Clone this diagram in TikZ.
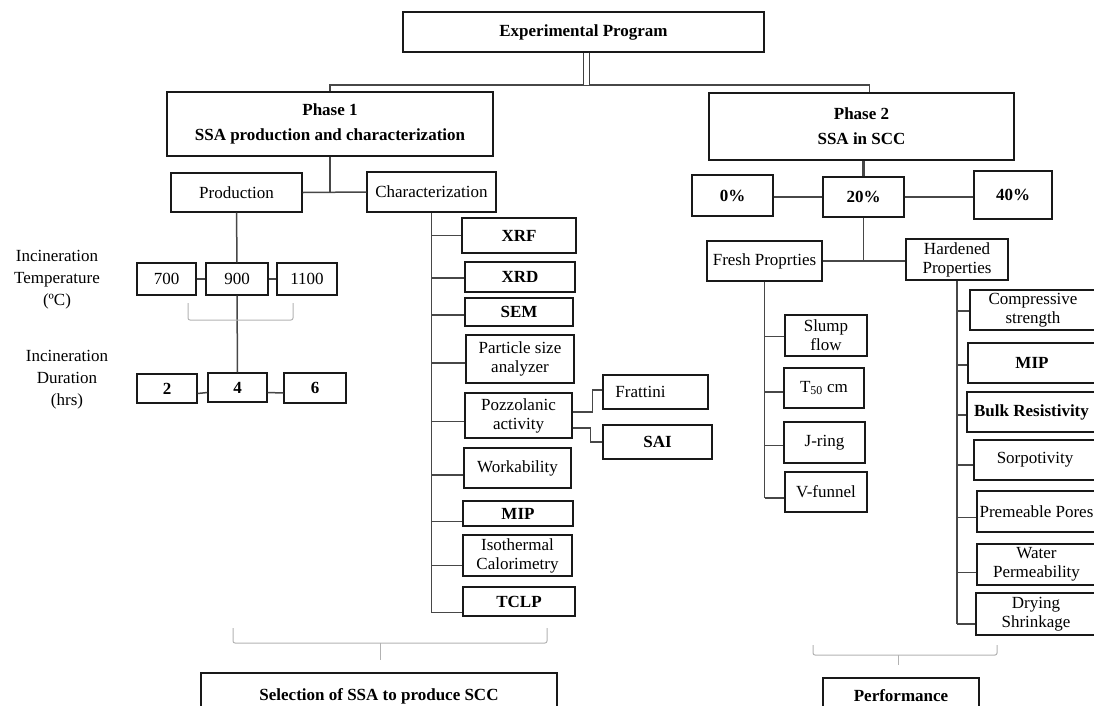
\documentclass[tikz,border=0pt]{standalone}
\usepackage{fontspec}
\setmainfont{Liberation Serif}
\usetikzlibrary{calc}
\tikzset{
  boxs/.style={draw=black!90, line width=1.2pt, fill=white, align=center, inner sep=1pt,
    font=\fontsize{17}{19}\selectfont},
  bold/.style={font=\fontsize{17}{19}\selectfont\bfseries},
  conn/.style={draw=black!72, line width=1.5pt},
  brk/.style={draw=black!30, line width=1pt, rounded corners=2pt},
  lbl/.style={align=center, font=\fontsize{17}{22}\selectfont},
}
\newcommand\bx[7]{\node[boxs,#6,minimum width={(#4-#2)*1pt},minimum height={(#5-#3)*1pt}] (#1) at ({(#2+#4)/2},{(#3+#5)/2}) {#7};}
\newcommand\cbr[3]{\coordinate (#2c) at ([yshift=#3]#2.west); \draw[conn] (#1 |- #2c) -- (#2c);}
\begin{document}
\begin{tikzpicture}[x=1pt,y=-1pt]
\useasboundingbox (0,0) rectangle (1094,705);
\clip (0,0) rectangle (1094,705);
% ---------- boxes ----------
\bx{ep}{403}{12}{764}{52}{bold}{Experimental Program}
\bx{p1}{167}{92}{493}{156}{bold}{Phase 1\\[6pt]SSA production and characterization}
\bx{p2}{709}{93}{1014}{160}{bold}{Phase 2\\[6pt]SSA in SCC}
\bx{prod}{171}{173}{302}{212}{}{Production}
\bx{char}{367}{172}{496}{212}{}{Characterization}
\bx{t700}{137}{263}{196}{295}{}{700}
\bx{t900}{206}{263}{268}{295}{}{900}
\bx{t1100}{277}{263}{337}{295}{}{1100}
\bx{d2}{137}{374}{197}{403}{bold}{2}
\bx{d4}{208}{373}{267}{402}{bold}{4}
\bx{d6}{284}{373}{346}{403}{bold}{6}
\bx{xrf}{462}{218}{576}{253}{bold}{XRF}
\bx{xrd}{465}{262}{575}{292}{bold}{XRD}
\bx{sem}{465}{298}{573}{326}{bold}{SEM}
\bx{psa}{466}{335}{574}{383}{}{Particle size\\analyzer}
\bx{pozz}{465}{393}{572}{438}{}{Pozzolanic\\activity}
\bx{frat}{603}{375}{708}{409}{}{Frattini\hspace{30pt}}
\bx{sai}{603}{425}{712}{459}{bold}{SAI}
\bx{work}{464}{448}{571}{488}{}{Workability}
\bx{mipa}{463}{501}{573}{526}{bold}{MIP}
\bx{iso}{463}{535}{572}{576}{}{Isothermal\\Calorimetry}
\bx{tclp}{463}{587}{575}{616}{bold}{TCLP}
\bx{sel}{201}{673}{557}{720}{bold}{Selection of SSA to produce SCC}
\bx{pz}{692}{175}{773}{216}{bold}{0\%}
\bx{ptw}{823}{177}{904}{217}{bold}{20\%}
\bx{pfo}{974}{171}{1052}{219}{bold}{40\%}
\bx{fresh}{707}{241}{822}{281}{}{Fresh Proprties}
\bx{hard}{906}{239}{1008}{280}{}{Hardened\\Properties}
\bx{slump}{785}{315}{867}{356}{}{Slump\\flow}
\bx{tfifty}{784}{368}{864}{408}{}{T\textsubscript{50} cm}
\bx{jring}{784}{422}{865}{463}{}{J-ring}
\bx{vfun}{785}{472}{867}{512}{}{V-funnel}
\bx{comp}{970}{290}{1096}{330}{}{Compressive\\strength}
\bx{mipb}{968}{343}{1096}{383}{bold}{MIP}
\bx{bulk}{967}{392}{1096}{432}{bold}{Bulk Resistivity}
\bx{sorp}{974}{440}{1096}{480}{}{Sorpotivity}
\bx{prem}{977}{491}{1096}{532}{}{Premeable Pores}
\bx{water}{977}{544}{1096}{585}{}{Water\\Permeability}
\bx{dry}{976}{593}{1096}{635}{}{Drying\\Shrinkage}
\bx{perf}{823}{678}{979}{714}{bold}{Performance}
% ---------- side labels ----------
\node[lbl] (itemp) at (57,280) {Incineration\\Temperature\\(ºC)};
\node[lbl] (idur) at (67,380) {Incineration\\Duration\\(hrs)};
% ---------- top connectors ----------
\coordinate (jn) at (587,85);
\coordinate (p2t) at ([xshift=8pt]p2.north);
\draw[conn] (p1.north) -- (p1.north |- jn) -- (p2t |- jn) -- (p2t);
\draw[draw=black!75, line width=1pt, double=white, double distance=5pt] ([xshift=3pt]ep.south) -- ([xshift=3pt]ep.south |- jn);
% ---------- phase 1 ----------
\draw[conn] (p1.south) -- (p1.south |- prod.east);
\draw[conn] (prod.east) -- (char.west);
\draw[conn] (prod.south) -- (t900.north);
\draw[conn] (t900.south) -- (d4.north);
\draw[conn] (t700.east) -- (t900.west);
\draw[conn] (t900.east) -- (t1100.west);
\draw[conn] ([yshift=-5pt]d2.east) -- ([yshift=-5pt]d4.west);
\draw[conn] ([yshift=-5pt]d4.east) -- ([yshift=-5pt]d6.west);
\draw[brk] (188,303) -- (188,320) -- (293,320) -- (293,303);
% characterization trunk
\cbr{char.south}{xrf}{0pt}
\cbr{char.south}{xrd}{-1pt}
\cbr{char.south}{sem}{-3pt}
\cbr{char.south}{psa}{-4pt}
\cbr{char.south}{pozz}{-6pt}
\cbr{char.south}{work}{-7pt}
\cbr{char.south}{mipa}{-8pt}
\cbr{char.south}{iso}{-10pt}
\cbr{char.south}{tclp}{-11pt}
\draw[conn] (char.south) -- (char.south |- tclpc);
\draw[conn] ([yshift=3.5pt]pozz.east) -- ++(20,0) |- ([yshift=2pt]frat.west);
\draw[conn] ([yshift=-12.5pt]pozz.east) -- ++(18,0) |- (sai.west);
\draw[brk] (233,628) -- (233,643) -- (547,643) -- (547,628);
\draw[brk] (380,643) -- (380,660);
% ---------- phase 2 ----------
\draw[conn, line width=3pt] (p2.south -| ptw.north) -- (ptw.north);
\draw[conn] (ptw.west) -- (ptw.west -| pz.east);
\draw[conn] (ptw.east) -- (ptw.east -| pfo.west);
\draw[conn] (ptw.south) -- (ptw.south |- fresh.east);
\draw[conn] (fresh.east) -- (fresh.east -| hard.west);
\cbr{fresh.south}{slump}{-1pt}
\cbr{fresh.south}{tfifty}{-4pt}
\cbr{fresh.south}{jring}{-3pt}
\cbr{fresh.south}{vfun}{-6pt}
\draw[conn] (fresh.south) -- (fresh.south |- vfunc);
\cbr{hard.south}{comp}{-1pt}
\cbr{hard.south}{mipb}{-2pt}
\cbr{hard.south}{bulk}{-3pt}
\cbr{hard.south}{sorp}{-5pt}
\cbr{hard.south}{prem}{-6pt}
\cbr{hard.south}{water}{-8pt}
\cbr{hard.south}{dry}{-10pt}
\draw[conn] (hard.south) -- (hard.south |- dryc);
\draw[brk] (813,645) -- (813,655) -- (997,655) -- (997,645);
\draw[brk] (898,655) -- (898,665);
\end{tikzpicture}
\end{document}
